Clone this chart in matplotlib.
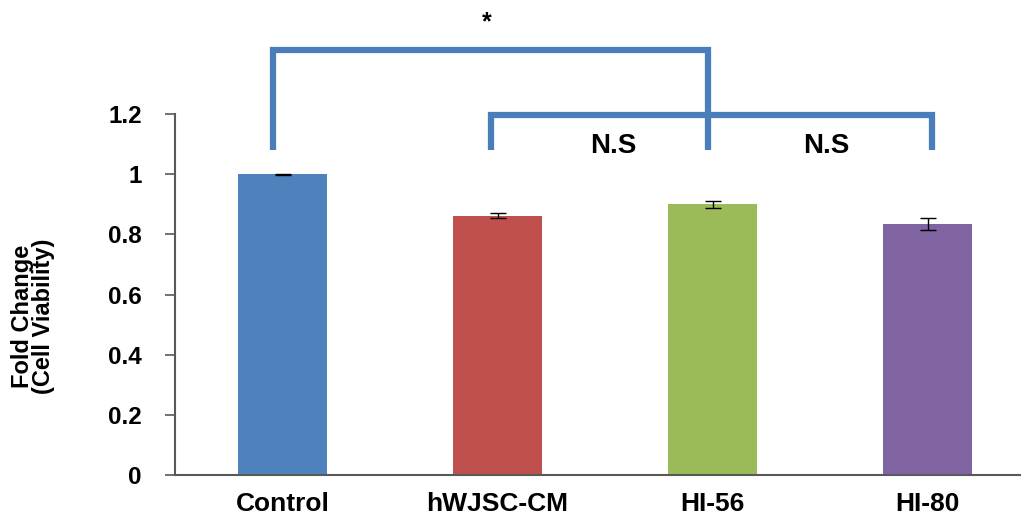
import matplotlib
matplotlib.use("Agg")
import matplotlib.pyplot as plt

# Data
categories = ["Control", "hWJSC-CM", "HI-56", "HI-80"]
fold_change = [1.0, 0.862, 0.900, 0.835]
errors = [0.002, 0.008, 0.012, 0.020]
colors = ["#4F81BD", "#C0504D", "#9BBB59", "#8064A2"]
y_ticks = [0, 0.2, 0.4, 0.6, 0.8, 1, 1.2]
y_tick_labels = ["0", "0.2", "0.4", "0.6", "0.8", "1", "1.2"]

plt.rcParams["font.family"] = ["Liberation Sans", "DejaVu Sans"]
plt.rcParams["font.weight"] = "bold"

W, H = 1021, 518
fig = plt.figure(figsize=(W / 100, H / 100), dpi=100)
ax = fig.add_axes([175 / W, 43 / H, 860 / W, 361 / H])

x = range(len(categories))
ax.bar(x, fold_change, width=0.41, color=colors, zorder=2)
ax.errorbar(x, fold_change, yerr=errors, fmt="none", ecolor="black",
            elinewidth=1.0, capsize=6, capthick=1.0, zorder=3)

ax.set_xlim(-0.5, 3.5)
ax.set_ylim(0, 1.2)
ax.set_yticks(y_ticks)
ax.set_yticklabels(y_tick_labels, fontsize=17.5, fontweight="bold")
ax.set_xticks(list(x))
ax.set_xticklabels(categories, fontsize=19, fontweight="bold")
ax.tick_params(axis="x", length=0, pad=12)
ax.tick_params(axis="y", direction="out", length=7, width=1.2, color="#595959", pad=17)

for side in ("top", "right"):
    ax.spines[side].set_visible(False)
for side in ("left", "bottom"):
    ax.spines[side].set_color("#595959")
    ax.spines[side].set_linewidth(1.5)

# Two-line y-axis title
fig.text(33 / W, 1 - 316 / H, "Fold Change\n(Cell Viability)", rotation=90,
         ha="center", va="center", multialignment="center", linespacing=0.92,
         fontsize=17, fontweight="bold")

# Significance brackets
bracket_color = "#4A7EBB"
lw = 4.5
ax.plot([-0.045, -0.045, 1.98, 1.98], [1.08, 1.413, 1.413, 1.08],
        color=bracket_color, lw=lw, clip_on=False, solid_joinstyle="miter",
        solid_capstyle="butt", zorder=4)
ax.plot([0.97, 0.97, 3.02, 3.02], [1.08, 1.197, 1.197, 1.08],
        color=bracket_color, lw=lw, clip_on=False, solid_joinstyle="miter",
        solid_capstyle="butt", zorder=4)

ax.text(0.95, 1.505, "*", ha="center", va="center", fontsize=18,
        fontweight="bold", clip_on=False)
ax.text(1.54, 1.095, "N.S", ha="center", va="center", fontsize=20,
        fontweight="bold", clip_on=False)
ax.text(2.53, 1.095, "N.S", ha="center", va="center", fontsize=20,
        fontweight="bold", clip_on=False)

fig.savefig("out.png", dpi=100)
